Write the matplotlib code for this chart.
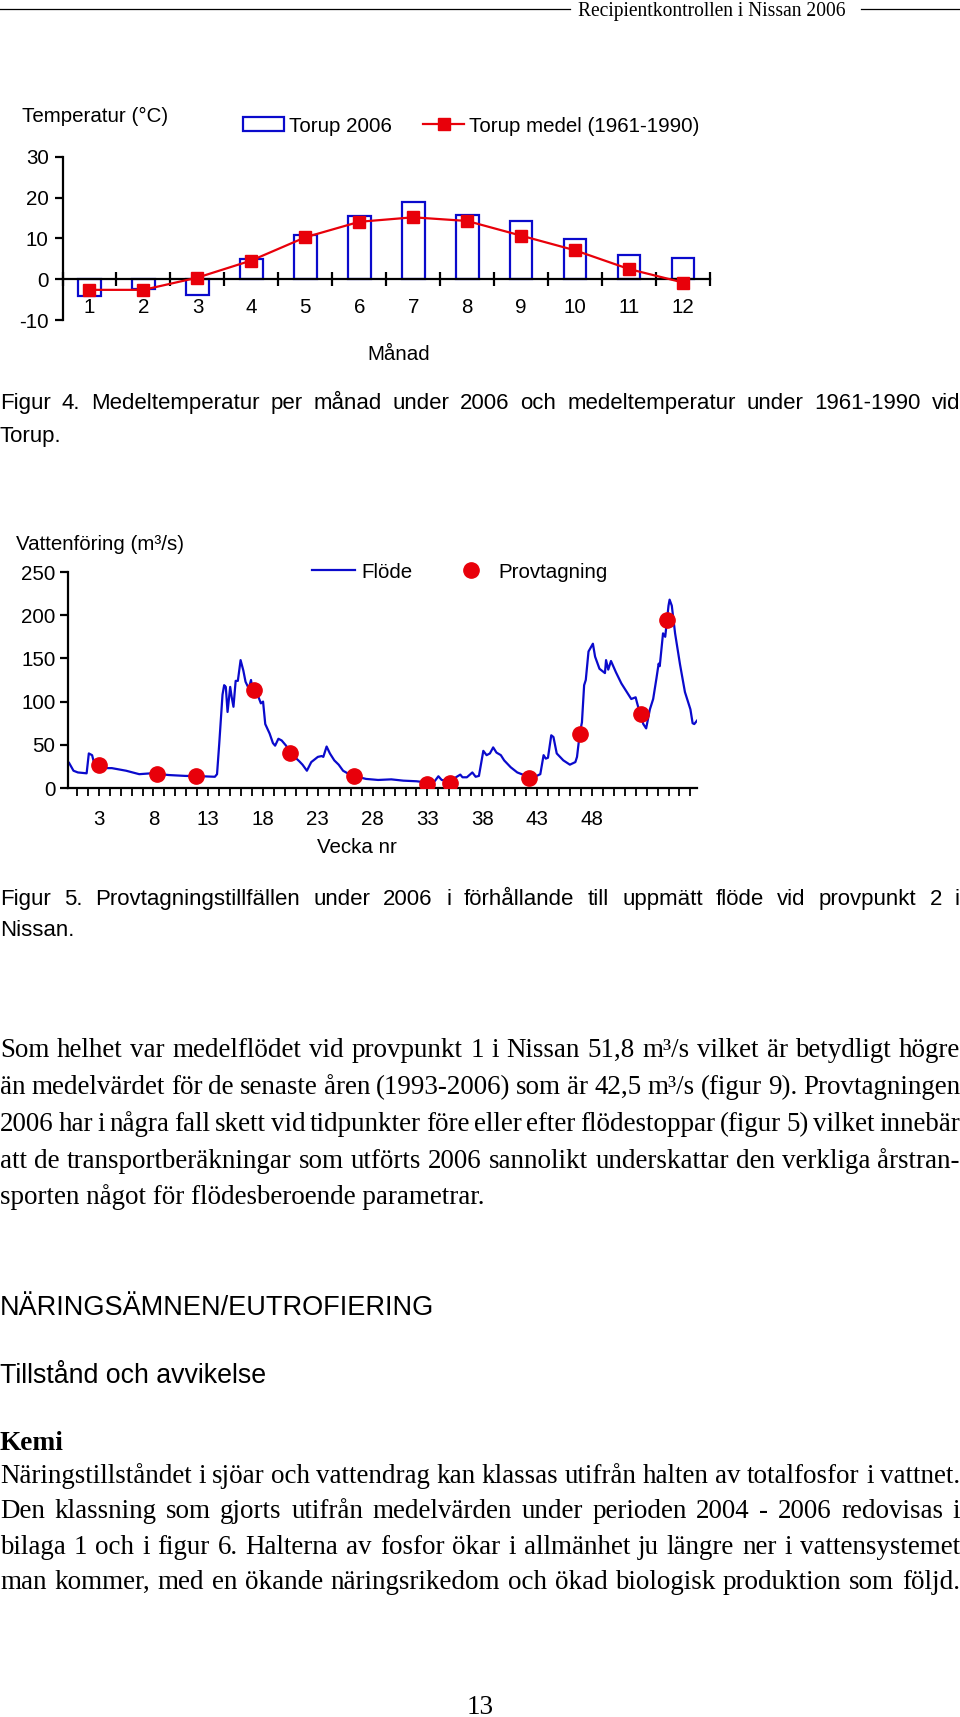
import matplotlib
matplotlib.use('Agg')
import matplotlib.pyplot as plt
from matplotlib.patches import Patch
from matplotlib.lines import Line2D
import numpy as np

plt.rcParams['axes.unicode_minus'] = False

W, H = 960, 1717

# --- Figur 4: temperatur ---
months = list(range(1, 13))
torup_2006 = [-4.2, -2.4, -3.9, 4.9, 10.8, 15.5, 19.0, 15.7, 14.3, 9.8, 5.9, 5.1]
torup_medel = [-2.6, -2.6, 0.4, 4.6, 10.3, 14.1, 15.2, 14.3, 10.7, 7.1, 2.5, -0.8]

# --- Figur 5: flöde (vecka, m3/s) ---
flow_week = [0.3, 0.7, 1.1, 1.9, 2.1, 2.4, 2.6, 3.4, 4.2, 5.5, 6.7, 7.8, 9.4, 10.9,
             12.4, 13.6, 13.8, 14.0, 14.3, 14.45, 14.6, 14.76, 15.0, 15.14, 15.3,
             15.5, 15.7, 15.95, 16.2, 16.4, 16.7, 16.9, 17.0, 17.5, 17.8, 18.0,
             18.2, 18.6, 18.9, 19.1, 19.4, 19.7, 20.1, 20.5, 21.05, 21.3, 21.6,
             22.0, 22.4, 23.0, 23.35, 23.5, 23.8, 24.1, 24.5, 24.9, 25.3, 25.85,
             26.6, 27.4, 28.5, 29.7, 30.8, 32.0, 32.8, 33.3, 33.7, 34.0, 34.3,
             34.75, 35.25, 35.6, 36.0, 36.2, 36.6, 37.1, 37.4, 37.7, 38.1, 38.4,
             38.7, 39.0, 39.3, 39.7, 40.0, 40.6, 41.2, 42.0, 42.7, 43.3, 43.6,
             43.8, 44.0, 44.3, 44.5, 44.8, 45.4, 46.0, 46.5, 46.65, 46.9, 47.1,
             47.3, 47.45, 47.7, 48.1, 48.3, 48.7, 49.2, 49.3, 49.5, 49.75, 50.2,
             50.7, 51.2, 51.6, 52.0, 52.1, 52.4, 52.7, 52.96, 53.3, 53.6, 53.9,
             54.1, 54.2, 54.5, 54.7, 55.0, 55.1, 55.3, 55.6, 56.05, 56.5, 57.0,
             57.2, 57.35, 57.6]
flow_value = [29, 20, 18, 17, 40, 38, 28, 23, 23, 20, 16, 17, 15, 14,
              13.6, 13, 16, 51, 108, 119, 117, 88, 117, 105, 94,
              124, 124, 148, 136, 123, 115, 125, 117, 108, 98, 100,
              74, 63, 52, 49, 57, 55, 49, 40, 34, 31, 27,
              20, 30, 36, 37, 36, 48, 40, 32, 27, 20, 16,
              13, 10.5, 9.3, 10, 8.5, 7.8, 6.6, 2.7, 8.5, 13.6, 9.3,
              8.5, 9.3, 12.4, 15.5, 12.4, 12.4, 18, 13, 14, 43, 38,
              40, 47, 41, 38, 32, 24, 18, 14, 12.4, 16, 38,
              34, 35, 61, 59, 40, 32, 27, 30, 36, 63, 76,
              119, 125, 158, 167, 152, 138, 133, 148, 137, 147, 134,
              121, 111, 103, 105, 100, 86, 74, 69, 91, 103, 127,
              144, 141, 179, 175, 211, 218, 211, 179, 143, 111, 91,
              75, 74, 78]
sample_week = [3.0, 8.3, 11.9, 17.2, 20.5, 26.3, 33.0, 35.1, 42.3, 46.9, 52.5, 54.9]
sample_value = [27, 16, 14, 114, 41, 14, 5, 6, 11, 62, 86, 194]
week_labels = [3, 8, 13, 18, 23, 28, 33, 38, 43, 48]

SANS = ['Liberation Sans', 'DejaVu Sans']
SERIF = ['Liberation Serif', 'DejaVu Serif']
BLUE = '#0a0acc'
RED = '#e8000a'
FS = 14.8   # diagramtext
CAP = 16    # figurtext

fig = plt.figure(figsize=(W / 100, H / 100), dpi=100)
r = fig.canvas.get_renderer()


def fy(y):
    return 1 - y / H


def text_width(s, size, family, weight='normal'):
    t = fig.text(0, 0, s, fontsize=size, family=family, weight=weight)
    w = t.get_window_extent(r).width
    t.remove()
    return w


def fit(s, width, family, weight='normal'):
    return 10 * width / text_width(s, 10, family, weight)


def put(s, x, y, size, family, weight='normal', ha='left'):
    # y = optisk mitt av versalerna; placera på baslinjen
    base = y + 0.34 * size * 100 / 72
    fig.text(x / W, fy(base), s, fontsize=size, family=family, weight=weight,
             ha=ha, va='baseline')


def justify(s, y, size, family, x0=0, x1=W):
    words = s.split(' ')
    ws = [text_width(w, size, family) for w in words]
    gap = (x1 - x0 - sum(ws)) / (len(words) - 1)
    x = x0
    for w, wd in zip(words, ws):
        put(w, x, y, size, family)
        x += wd + gap


# sidhuvud
fig.add_artist(Line2D([0, 570 / W], [fy(9), fy(9)], color='black', lw=0.9))
fig.add_artist(Line2D([861 / W, 1], [fy(9), fy(9)], color='black', lw=0.9))
hs = fit('Recipientkontrollen i Nissan 2006', 268, SERIF)
put('Recipientkontrollen i Nissan 2006', 578, 9, hs, SERIF)

# ---------------- Figur 4 ----------------
ax1 = fig.add_axes([62.5 / W, fy(320), (710 - 62.5) / W, (320 - 157) / H])
ax1.bar(months, torup_2006, width=0.42, facecolor='white', edgecolor=BLUE,
        linewidth=1.6, zorder=2)
ax1.plot(months, torup_medel, color=RED, lw=1.6, marker='s', ms=8.5,
         mfc=RED, mec=RED, zorder=3)
ax1.set_xlim(0.5, 12.5)
ax1.set_ylim(-10, 30)
ax1.set_yticks([-10, 0, 10, 20, 30])
ax1.set_xticks(months)
ax1.set_xticks(np.arange(0.5, 13, 1), minor=True)
for s in ['top', 'right']:
    ax1.spines[s].set_visible(False)
ax1.spines['bottom'].set_position(('data', 0))
ax1.spines['bottom'].set_linewidth(1.6)
ax1.spines['left'].set_linewidth(1.6)
ax1.tick_params(axis='y', direction='out', length=6, width=1.6, pad=4, labelsize=FS)
ax1.tick_params(axis='x', which='major', length=0, pad=13.5, labelsize=FS)
ax1.tick_params(axis='x', which='minor', direction='inout', length=10, width=1.6)
for t in ax1.get_xticklabels() + ax1.get_yticklabels():
    t.set_family(SANS)
put('Temperatur (°C)', 22, 115, FS, SANS)
put('Månad', 399, 353, FS, SANS, ha='center')
h1 = [Patch(facecolor='white', edgecolor=BLUE, linewidth=1.6),
      Line2D([], [], color=RED, lw=1.6, marker='s', ms=8.5)]
fig.legend(h1, ['Torup 2006', 'Torup medel (1961-1990)'], ncol=2, frameon=False,
           loc='center left', bbox_to_anchor=(243 / W, fy(126)),
           prop={'family': SANS, 'size': FS}, handlelength=2.0, handleheight=0.7,
           handletextpad=0.25, columnspacing=1.5, borderpad=0, borderaxespad=0)

justify('Figur 4. Medeltemperatur per månad under 2006 och medeltemperatur under 1961-1990 vid',
        401, CAP, SANS)
put('Torup.', 0, 434, CAP, SANS)

# ---------------- Figur 5 ----------------
ax2 = fig.add_axes([68 / W, fy(788), (697 - 68) / W, (788 - 572) / H])
ax2.plot(flow_week, flow_value, color=BLUE, lw=1.6, zorder=2)
ax2.plot(sample_week, sample_value, 'o', color=RED, ms=11, zorder=3)
ax2.set_xlim(0.2, 57.6)
ax2.set_ylim(0, 250)
ax2.set_yticks([0, 50, 100, 150, 200, 250])
ax2.set_xticks(week_labels)
ax2.set_xticks(np.arange(1, 58, 1), minor=True)
for s in ['top', 'right']:
    ax2.spines[s].set_visible(False)
ax2.spines['bottom'].set_linewidth(1.6)
ax2.spines['left'].set_linewidth(1.6)
ax2.tick_params(axis='y', direction='out', length=6, width=1.6, pad=3, labelsize=FS)
ax2.tick_params(axis='x', which='both', direction='out', length=6, width=1.3,
                pad=10, labelsize=FS)
for t in ax2.get_xticklabels() + ax2.get_yticklabels():
    t.set_family(SANS)
put('Vattenföring (m³/s)', 16, 543, FS, SANS)
put('Vecka nr', 357, 846, FS, SANS, ha='center')
h2 = [Line2D([], [], color=BLUE, lw=1.6),
      Line2D([], [], color=RED, marker='o', ls='none', ms=11)]
fig.legend(h2, ['Flöde', 'Provtagning'], ncol=2, frameon=False,
           loc='center left', bbox_to_anchor=(312 / W, fy(572)),
           prop={'family': SANS, 'size': FS}, handlelength=2.1,
           handletextpad=0.3, columnspacing=1.8, borderpad=0, borderaxespad=0)

justify('Figur 5. Provtagningstillfällen under 2006 i förhållande till uppmätt flöde vid provpunkt 2 i',
        897, CAP, SANS)
put('Nissan.', 0, 928, CAP, SANS)

# ---------------- Brödtext ----------------
body = fit('sporten något för flödesberoende parametrar.', 485, SERIF)
para1 = ['Som helhet var medelflödet vid provpunkt 1 i Nissan 51,8 m³/s vilket är betydligt högre',
         'än medelvärdet för de senaste åren (1993-2006) som är 42,5 m³/s (figur 9). Provtagningen',
         '2006 har i några fall skett vid tidpunkter före eller efter flödestoppar (figur 5) vilket innebär',
         'att de transportberäkningar som utförts 2006 sannolikt underskattar den verkliga årstran-']
for i, line in enumerate(para1):
    justify(line, 1048 + i * 36.8, body, SERIF)
put('sporten något för flödesberoende parametrar.', 0, 1048 + 4 * 36.8, body, SERIF)

put('NÄRINGSÄMNEN/EUTROFIERING', 0, 1306, fit('NÄRINGSÄMNEN/EUTROFIERING', 433, SANS), SANS)
put('Tillstånd och avvikelse', 0, 1374, fit('Tillstånd och avvikelse', 268, SANS), SANS)
put('Kemi', 0, 1441, fit('Kemi', 64, SERIF, 'bold'), SERIF, weight='bold')

para2 = ['Näringstillståndet i sjöar och vattendrag kan klassas utifrån halten av totalfosfor i vattnet.',
         'Den klassning som gjorts utifrån medelvärden under perioden 2004 - 2006 redovisas i',
         'bilaga 1 och i figur 6. Halterna av fosfor ökar i allmänhet ju längre ner i vattensystemet',
         'man kommer, med en ökande näringsrikedom och ökad biologisk produktion som följd.']
for i, line in enumerate(para2):
    justify(line, 1474 + i * 35.3, body, SERIF)

put('13', 480, 1705, body, SERIF, ha='center')

fig.savefig('out.png', dpi=100)
